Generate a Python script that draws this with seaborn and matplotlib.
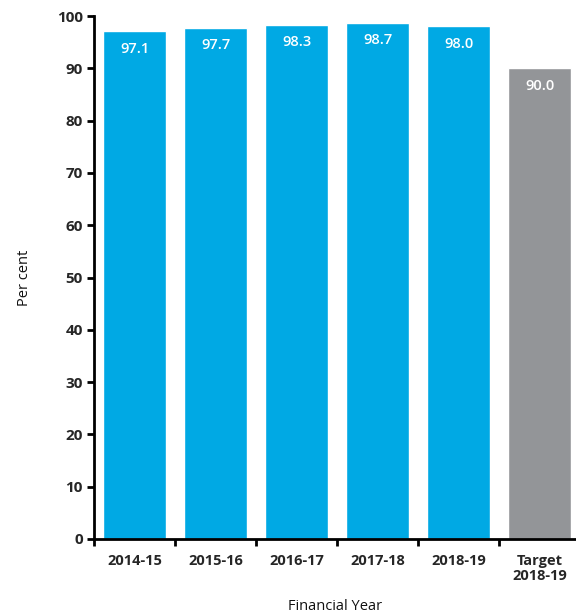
import matplotlib
matplotlib.use("Agg")
import matplotlib.pyplot as plt
import seaborn as sns
import pandas as pd

categories = ["2014-15", "2015-16", "2016-17", "2017-18", "2018-19", "Target\n2018-19"]
values = [97.1, 97.7, 98.3, 98.7, 98.0, 90.0]
bar_colors = ["#00a9e4", "#00a9e4", "#00a9e4", "#00a9e4", "#00a9e4", "#939598"]
y_ticks = [0, 10, 20, 30, 40, 50, 60, 70, 80, 90, 100]

sns.set_theme(style="ticks")
plt.rcParams["font.family"] = ["Open Sans", "DejaVu Sans"]

df = pd.DataFrame({"year": categories, "value": values})

fig = plt.figure(figsize=(5.76, 6.13), dpi=100)
ax = fig.add_axes([94 / 576, 1 - 539 / 613, (576 - 94) / 576, (539 - 16) / 613])

sns.barplot(data=df, x="year", y="value", hue="year", palette=bar_colors,
            legend=False, width=0.78, saturation=1, ax=ax)

for i, v in enumerate(values):
    ax.annotate(f"{v:.1f}", (i, v), xytext=(0, -12.5), textcoords="offset points",
                ha="center", va="center", color="white", fontsize=10.5,
                fontweight="semibold")

ax.set_xlim(-0.5, 5.45)
ax.set_ylim(0, 100)
ax.set_yticks(y_ticks)
ax.set_yticklabels([str(t) for t in y_ticks], fontsize=11, fontweight="bold")

# category boundary ticks, labels centred on bars
ax.set_xticks([i - 0.5 for i in range(len(categories))], minor=False)
ax.set_xticklabels([])
ax.set_xticks(range(len(categories)), minor=True)
ax.set_xticklabels(categories, minor=True, fontsize=10.5, fontweight="bold",
                   linespacing=1.05)
ax.tick_params(axis="x", which="minor", length=0, pad=11)
ax.tick_params(axis="x", which="major", length=5, width=2, color="black")
ax.tick_params(axis="y", length=5, width=2, color="black", pad=3)

for side in ["top", "right"]:
    ax.spines[side].set_visible(False)
for side in ["left", "bottom"]:
    ax.spines[side].set_linewidth(2)
    ax.spines[side].set_color("black")

ax.set_xlabel("Financial Year", fontsize=10.5, labelpad=12, color="#111111",
              fontweight="medium")
ax.set_ylabel("Per cent", fontsize=10.5, labelpad=18, color="#111111",
              fontweight="medium")

fig.savefig("out.png", dpi=100)
